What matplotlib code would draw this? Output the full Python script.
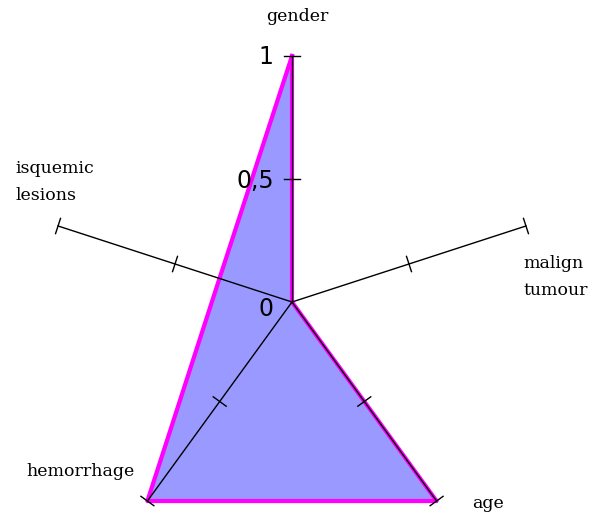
import numpy as np
import matplotlib.pyplot as plt

# radar data
categories = ['gender', 'malign\ntumour', 'age', 'hemorrhage', 'isquemic\nlesions']
values = [1, 0, 1, 1, 0.31]
angles_deg = [90, 18, -54, -126, 162]
tick_values = [0.5, 1]
scale_labels = ['0', '0,5', '1']

fig = plt.figure(figsize=(6.05, 5.16), dpi=100)
ax = fig.add_axes([0, 0, 1, 1])
R = 246.0  # pixels for value 1
ax.set_xlim(-292 / R, (605 - 292) / R)
ax.set_ylim(-(516 - 302) / R, 302 / R)
ax.set_aspect('equal')
ax.axis('off')

ang = np.radians(angles_deg)
vals = np.array(values, dtype=float)
xs = vals * np.cos(ang)
ys = vals * np.sin(ang)

ax.fill(xs, ys, color='#9999ff', zorder=1)
ax.plot(np.append(xs, xs[0]), np.append(ys, ys[0]), color='#ff00ff', lw=3, zorder=2)

# axes with perpendicular ticks
tl = 8 / R
for a in ang:
    ax.plot([0, np.cos(a)], [0, np.sin(a)], color='black', lw=1, zorder=3)
    for t in tick_values:
        cx, cy = t * np.cos(a), t * np.sin(a)
        px, py = -np.sin(a), np.cos(a)
        ax.plot([cx - tl * px, cx + tl * px], [cy - tl * py, cy + tl * py],
                color='black', lw=1, zorder=3)

def P(xp, yp):
    return ((xp - 292) / R, (302 - yp) / R)

serif = dict(family='DejaVu Serif', fontsize=12.5, color='black')
ax.text(*P(297, 16), categories[0], ha='center', va='center', **serif)
ax.text(*P(523, 277), categories[1], ha='left', va='center', linespacing=1.8, **serif)
ax.text(*P(472, 504), categories[2], ha='left', va='center', **serif)
ax.text(*P(26, 471), categories[3], ha='left', va='center', **serif)
ax.text(*P(15, 182), categories[4], ha='left', va='center', linespacing=1.75, **serif)

sans = dict(family='DejaVu Sans', fontsize=17, color='black')
ax.text(*P(273, 309), scale_labels[0], ha='right', va='center', **sans)
ax.text(*P(274, 181), scale_labels[1], ha='right', va='center', **sans)
ax.text(*P(273, 57), scale_labels[2], ha='right', va='center', **sans)

fig.savefig('out.png', dpi=100)
